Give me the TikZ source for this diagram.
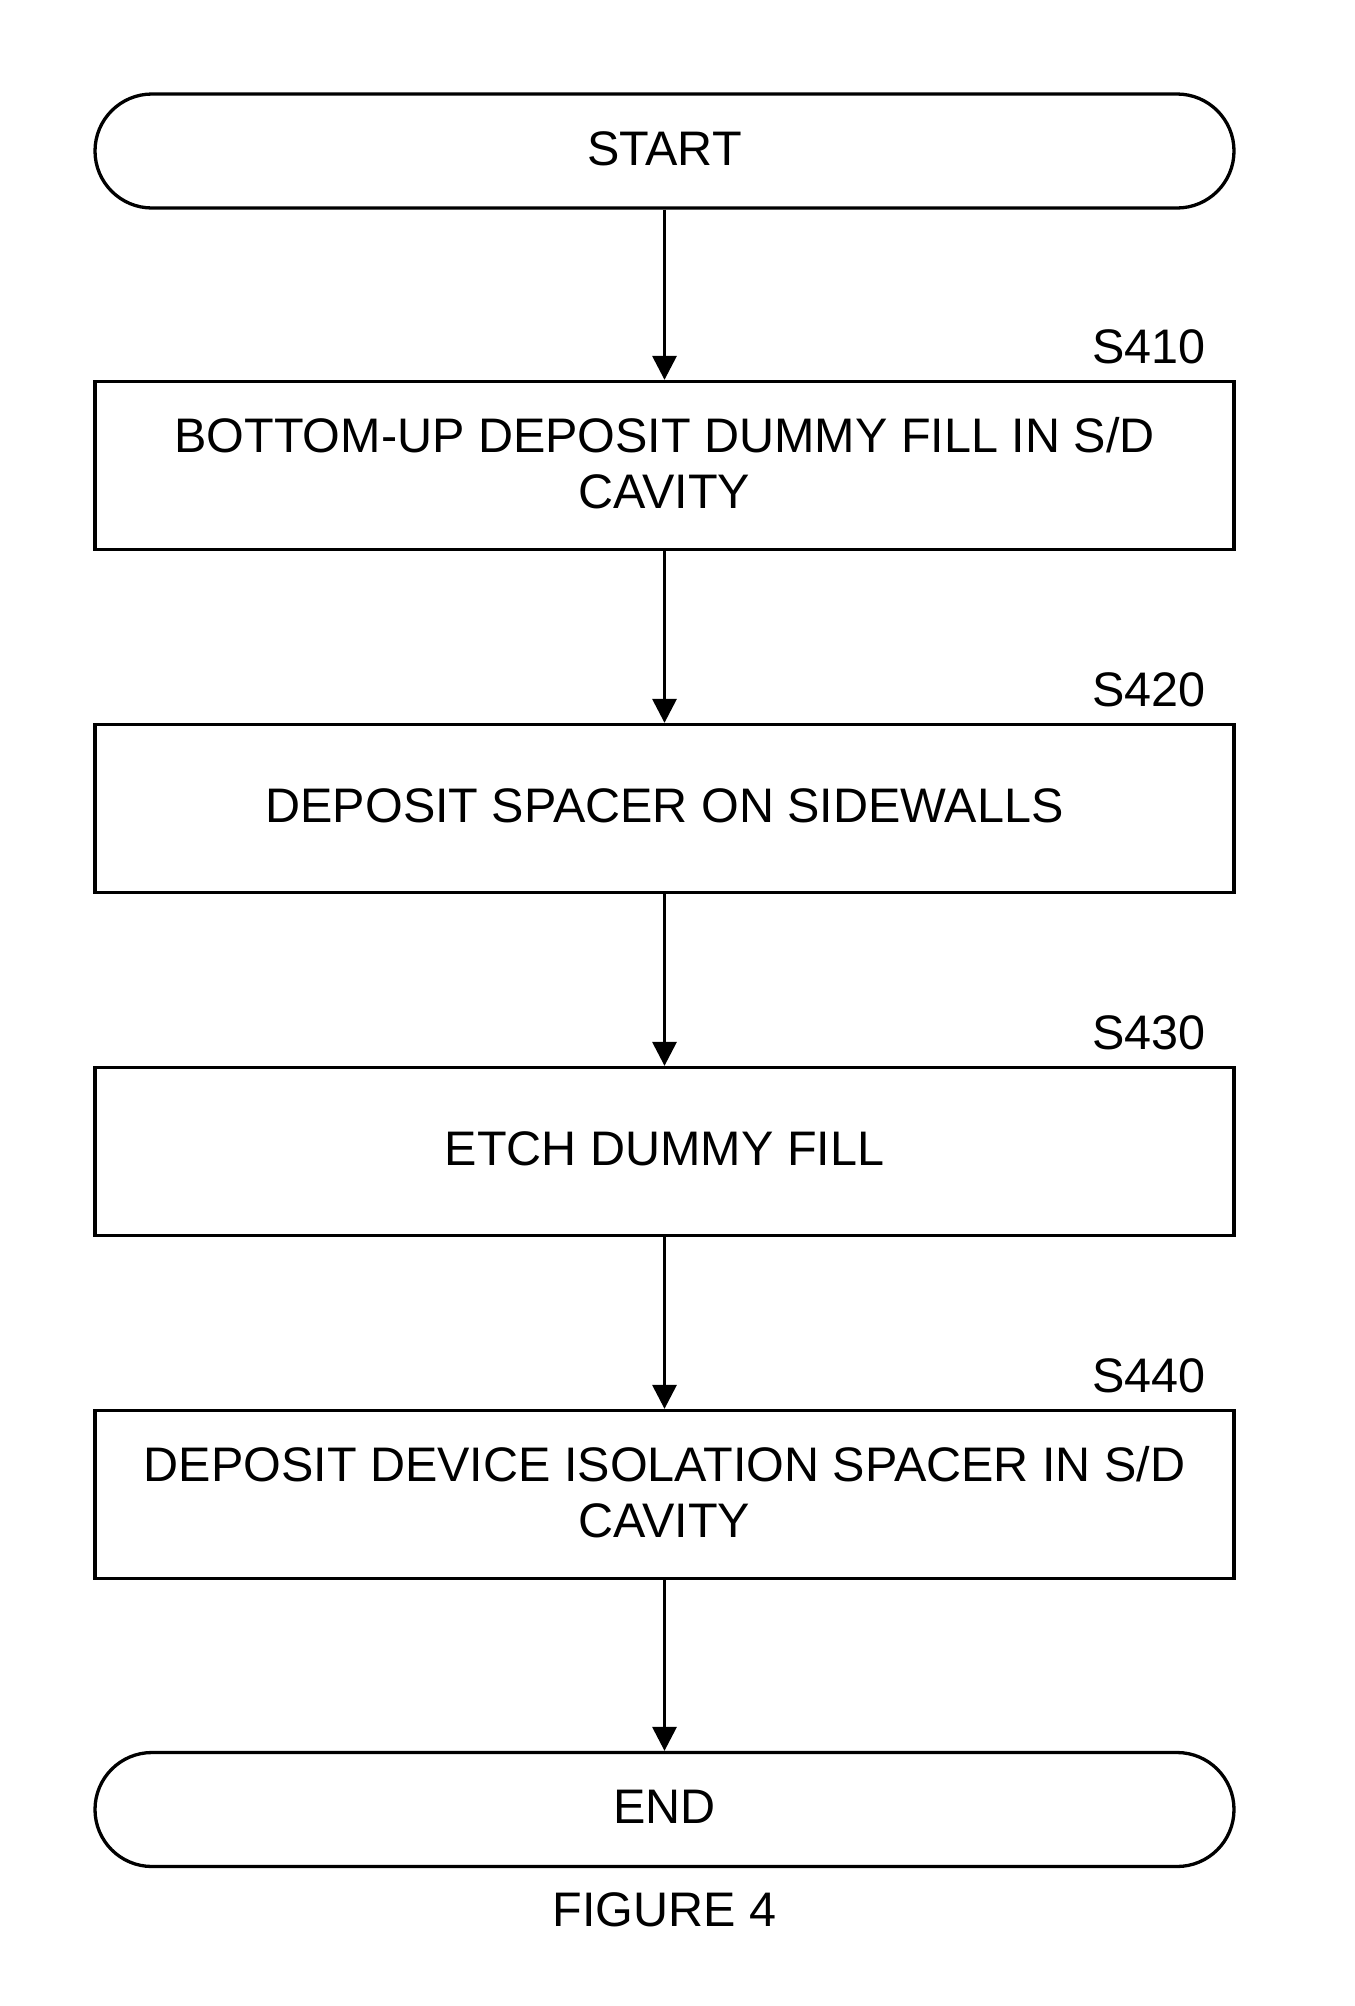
\documentclass[tikz,border=0pt]{standalone}
\usepackage{fontspec}
\setmainfont{Liberation Sans}
\usetikzlibrary{arrows.meta}
\begin{document}
\begin{tikzpicture}[x=1pt,y=-1pt,
  every node/.style={font=\fontsize{48.5}{56}\selectfont},
  stepbox/.style={draw=black, line width=3.3pt, rectangle, minimum width=1139pt, minimum height=168pt, align=center, inner sep=0pt, text depth=6pt},
  term/.style={draw=black, line width=3.3pt, rectangle, rounded corners=57pt, minimum width=1139pt, minimum height=114pt, inner sep=0pt, text depth=5pt},
  lbl/.style={anchor=base east, inner sep=0pt},
  arr/.style={line width=3.3pt, -{Triangle[width=24pt,length=24pt]}}]
\useasboundingbox (0,0) rectangle (1355,2006);
\node[term] (start) at (664.5,151) {START};
\node[stepbox] (s410) at (664.5,465.5) {BOTTOM-UP DEPOSIT DUMMY FILL IN S/D\\CAVITY};
\node[stepbox] (s420) at (664.5,808.5) {DEPOSIT SPACER ON SIDEWALLS};
\node[stepbox] (s430) at (664.5,1151.5) {ETCH DUMMY FILL};
\node[stepbox] (s440) at (664.5,1494.5) {DEPOSIT DEVICE ISOLATION SPACER IN S/D\\CAVITY};
\node[term] (end) at (664.5,1809.5) {END};
\node (fig) at (664.5,1910) {FIGURE 4};
\node[lbl] (l410) at ([xshift=-30pt,yshift=16pt]s410.north east) {S410};
\node[lbl] (l420) at ([xshift=-30pt,yshift=16pt]s420.north east) {S420};
\node[lbl] (l430) at ([xshift=-30pt,yshift=16pt]s430.north east) {S430};
\node[lbl] (l440) at ([xshift=-30pt,yshift=16pt]s440.north east) {S440};
\draw[arr] (start) -- (s410);
\draw[arr] (s410) -- (s420);
\draw[arr] (s420) -- (s430);
\draw[arr] (s430) -- (s440);
\draw[arr] (s440) -- (end);
\end{tikzpicture}
\end{document}
